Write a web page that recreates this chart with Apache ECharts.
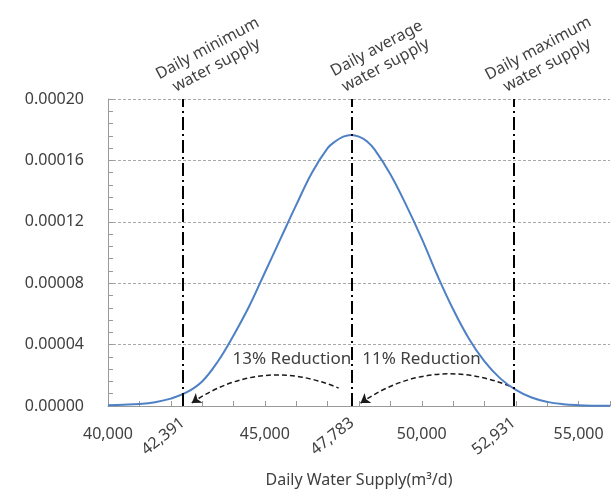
<!DOCTYPE html>
<html>
<head>
<meta charset="utf-8">
<script src="https://cdn.jsdelivr.net/npm/echarts@6/dist/echarts.min.js"></script>
<style>
  html, body { margin: 0; padding: 0; background: #fff; }
  #chart { width: 613px; height: 493px; }
</style>
</head>
<body>
<div id="chart"></div>
<script>
// water supply (m3/d) and probability density
const supplyX = [40000, 40500, 41000, 41500, 42000, 42500, 43000, 43500, 44000, 44500,
  45000, 45500, 46000, 46500, 47000, 47250, 47500, 47750, 48000, 48250, 48500, 49000,
  49500, 50000, 50500, 51000, 51500, 52000, 52500, 53000, 53500, 54000,
  54500, 55000, 55500, 56000];
const density = [0.05e-5, 0.08e-5, 0.13e-5, 0.25e-5, 0.48e-5, 0.88e-5, 1.6e-5, 2.9e-5, 4.6e-5, 6.5e-5,
  8.7e-5, 10.9e-5, 13.1e-5, 15.2e-5, 16.8e-5, 17.25e-5, 17.55e-5, 17.66e-5, 17.55e-5, 17.25e-5, 16.7e-5, 15.1e-5,
  13.1e-5, 10.9e-5, 8.5e-5, 6.3e-5, 4.4e-5, 2.9e-5, 1.8e-5, 1.05e-5, 0.55e-5, 0.27e-5,
  0.12e-5, 0.05e-5, 0.02e-5, 0.01e-5];

const markValues = [42391, 47783, 52931];
const markNames = ['Daily minimum\nwater supply', 'Daily average\nwater supply', 'Daily maximum\nwater supply'];
const reductionLabels = ['13% Reduction', '11% Reduction'];
const reductionLabelY = 3.05e-5;
// dashed arrows: [arrow head, tail] in data units
const arrowPaths = [
  [[42670, 0.2e-5], [47350, 1.17e-5]],
  [[48050, 0.19e-5], [52890, 1.23e-5]]
];

const textColor = '#404040';
const axisGray = '#999999';
const font = '"Noto Sans", "Open Sans", sans-serif';
const fmt = v => v.toLocaleString('en-US');

const chart = echarts.init(document.getElementById('chart'));

const option = {
  animation: false,
  textStyle: { fontFamily: font },
  grid: { left: 108, right: 1, top: 99, bottom: 86, containLabel: false },
  xAxis: [
    {
      type: 'value',
      min: 40000,
      max: 56000,
      interval: 1000,
      axisLine: { lineStyle: { color: axisGray } },
      axisTick: { inside: true, length: 5, lineStyle: { color: axisGray } },
      splitLine: { show: false },
      axisLabel: {
        formatter: v => (v % 5000 === 0 ? fmt(v) : ''),
        margin: 20,
        fontSize: 16,
        color: textColor,
        fontFamily: font
      },
      name: 'Daily Water Supply(m³/d)',
      nameLocation: 'middle',
      nameGap: 66,
      nameTextStyle: { fontSize: 16, color: textColor, fontFamily: font }
    },
    {
      type: 'value',
      min: 40000,
      max: 56000,
      position: 'bottom',
      axisLine: { show: false },
      axisTick: { show: false },
      splitLine: { show: false },
      axisLabel: {
        customValues: markValues,
        formatter: v => fmt(v),
        rotate: 38,
        margin: 15,
        fontSize: 16,
        color: textColor,
        fontFamily: font
      }
    }
  ],
  yAxis: {
    type: 'value',
    min: 0,
    max: 0.0002,
    interval: 0.00004,
    axisLine: { show: true, lineStyle: { color: axisGray } },
    axisTick: { show: true, inside: true, length: 5, lineStyle: { color: axisGray } },
    minorTick: { show: true, splitNumber: 5, length: 5, lineStyle: { color: axisGray } },
    splitLine: { lineStyle: { color: '#a8a8a8', type: [3, 2] } },
    axisLabel: {
      formatter: v => v.toFixed(5),
      margin: 24,
      fontSize: 16,
      color: textColor,
      fontFamily: font
    }
  },
  series: [
    {
      type: 'line',
      data: supplyX.map((x, i) => [x, density[i]]),
      smooth: 0.4,
      symbol: 'none',
      lineStyle: { color: '#4e80c5', width: 2 },
      z: 4,
      markLine: {
        silent: true,
        symbol: 'none',
        label: { show: false },
        lineStyle: { color: '#000', width: 2, type: [13, 4, 2, 4] },
        data: markValues.map(v => ({ xAxis: v }))
      }
    },
    {
      type: 'lines',
      coordinateSystem: 'cartesian2d',
      silent: true,
      symbol: ['arrow', 'none'],
      symbolSize: 9,
      lineStyle: { color: '#1a1a1a', width: 1.5, type: [5, 3], curveness: 0.27, opacity: 1 },
      data: arrowPaths.map(c => ({ coords: c })),
      z: 3
    }
  ]
};

chart.setOption(option);

// annotation texts anchored to the data positions
const topPts = markValues.map(v => chart.convertToPixel({ gridIndex: 0 }, [v, 0.0002]));
const midPt = chart.convertToPixel({ gridIndex: 0 }, [markValues[1], reductionLabelY]);

const graphics = topPts.map((p, i) => ({
  type: 'text',
  x: p[0] + 29,
  y: p[1] - 42,
  rotation: 28 * Math.PI / 180,
  style: {
    text: markNames[i],
    align: 'center',
    verticalAlign: 'middle',
    lineHeight: 19,
    font: '16px ' + font,
    fill: textColor
  }
}));
graphics.push({
  type: 'text', x: midPt[0] - 1, y: midPt[1],
  style: { text: reductionLabels[0], align: 'right', verticalAlign: 'middle', font: '17px ' + font, fill: textColor }
});
graphics.push({
  type: 'text', x: midPt[0] + 10, y: midPt[1],
  style: { text: reductionLabels[1], align: 'left', verticalAlign: 'middle', font: '17px ' + font, fill: textColor }
});

chart.setOption({ graphic: graphics });

window.addEventListener('resize', () => chart.resize());
</script>
</body>
</html>
